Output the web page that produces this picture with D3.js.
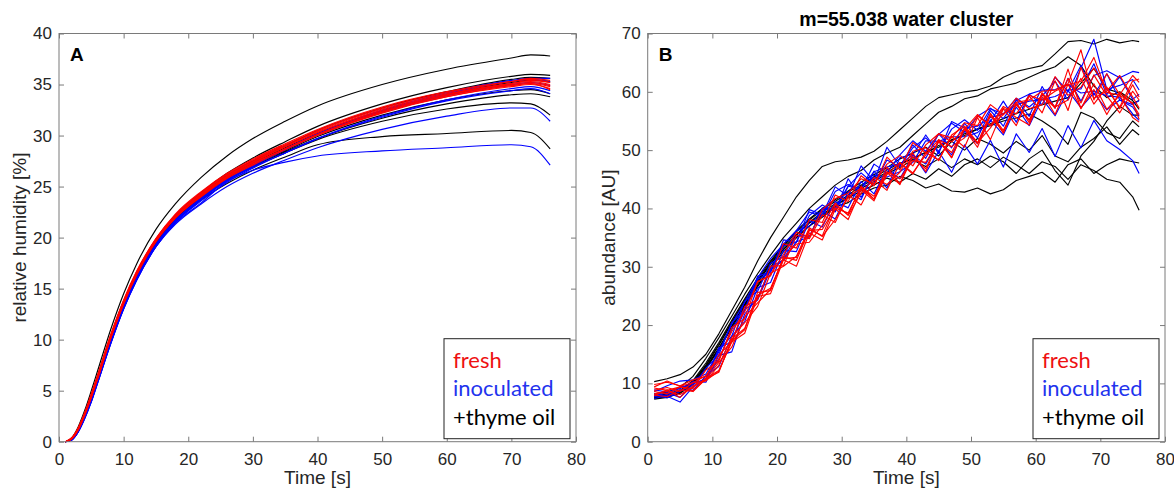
<!DOCTYPE html>
<html>
<head>
<meta charset="utf-8">
<script src="https://cdn.jsdelivr.net/npm/d3@7"></script>
<style>
  body { margin: 0; background: #fff; }
  text { font-family: "Liberation Sans", Arial, Helvetica, sans-serif; }
</style>
</head>
<body>
<script>

// ---- panel A : relative humidity ----
var timeA = [1, 2, 3, 4, 5, 6, 8, 10, 12, 15, 18, 22, 26, 30, 35, 40, 50, 60, 70, 73, 76];

var freshA = [
  [0,0.4,1.4,2.9,4.7,6.6,10.5,13.9,16.7,19.9,22.3,24.5,26.3,27.7,29.2,30.6,32.8,34.3,35.3,35.5,35.2],
  [0,0.3,1.3,2.8,4.5,6.4,10.3,13.7,16.5,19.8,22.1,24.2,26.0,27.4,28.9,30.3,32.5,34.0,35.0,35.2,34.9],
  [0,0.3,1.2,2.7,4.4,6.3,10.2,13.6,16.4,19.7,22.0,24.1,25.9,27.3,28.7,30.1,32.3,33.9,34.9,35.1,34.8],
  [0,0.4,1.3,2.8,4.6,6.5,10.4,13.8,16.6,19.8,22.1,24.3,26.1,27.5,29.0,30.4,32.6,34.1,35.1,35.3,35.0],
  [0,0.3,1.2,2.6,4.3,6.2,10.1,13.5,16.3,19.6,21.9,24.0,25.8,27.1,28.6,30.0,32.2,33.8,34.8,35.0,34.6],
  [0,0.3,1.3,2.7,4.4,6.3,10.2,13.6,16.4,19.7,22.0,24.2,26.0,27.4,28.9,30.3,32.4,34.0,35.1,35.4,35.2],
  [0,0.4,1.4,2.9,4.6,6.5,10.4,13.8,16.6,19.9,22.2,24.4,26.2,27.6,29.1,30.5,32.7,34.2,35.3,35.6,35.4],
  [0,0.3,1.2,2.7,4.4,6.2,10.1,13.5,16.3,19.6,21.9,24.1,25.9,27.2,28.7,30.1,32.3,33.8,34.9,35.1,34.5]
];

var inocA = [
  [0,0.2,1.0,2.4,4.0,5.9,9.7,13.1,15.9,19.2,21.5,23.6,25.4,26.8,28.3,29.7,31.9,33.5,34.6,34.8,34.4],
  [0,0.2,1.1,2.5,4.1,6.0,9.8,13.2,16.0,19.3,21.7,23.9,25.7,27.1,28.6,30.1,32.3,33.9,35.0,35.2,34.9],
  [0,0.2,1.0,2.3,3.9,5.8,9.6,13.0,15.8,19.1,21.5,23.7,25.6,27.0,28.6,30.1,32.4,34.1,35.3,35.5,35.3],
  [0,0.3,1.1,2.5,4.2,6.1,9.9,13.3,16.1,19.4,21.7,23.8,25.6,26.9,28.3,29.7,31.8,33.4,34.4,34.6,34.1],
  [0,0.2,1.0,2.4,4.0,5.9,9.7,13.1,15.9,19.2,21.6,23.8,25.7,27.1,28.7,30.2,32.5,34.2,35.4,35.6,35.6],
  [0,0.2,1.0,2.4,4.0,5.9,9.7,13.1,15.9,19.1,21.3,23.3,25.0,26.3,27.6,28.8,30.6,31.9,32.7,32.7,31.4],
  [0,0.2,1.0,2.3,3.9,5.8,9.6,13.0,15.8,19.1,21.4,23.4,25.5,26.6,27.4,28.0,28.5,28.8,29.1,28.9,27.1]
];

var thymeA = [
  [0,0.4,1.5,3.1,5.0,7.0,11.0,14.5,17.4,20.8,23.3,25.9,28.0,29.7,31.4,32.9,35.0,36.5,37.6,37.9,37.8],
  [0,0.3,1.2,2.6,4.3,6.2,10.0,13.4,16.2,19.4,21.7,23.7,25.3,26.6,27.9,29.1,29.9,30.2,30.5,30.3,28.7],
  [0,0.3,1.2,2.6,4.3,6.2,10.0,13.4,16.2,19.5,21.8,23.9,25.6,26.9,28.3,29.6,31.4,32.6,33.2,33.1,32.0],
  [0,0.3,1.3,2.8,4.5,6.4,10.3,13.7,16.5,19.8,22.2,24.4,26.3,27.8,29.4,30.9,33.1,34.7,35.8,36.0,35.9],
  [0,0.3,1.2,2.6,4.3,6.2,10.1,13.5,16.3,19.6,21.9,24.0,25.7,27.0,28.4,29.7,31.7,33.1,34.0,34.1,33.8],
  [0,0.3,1.3,2.7,4.4,6.3,10.2,13.6,16.4,19.7,22.0,24.2,26.1,27.5,29.0,30.5,32.7,34.3,35.5,35.7,35.6],
  [0,0.3,1.2,2.7,4.4,6.3,10.2,13.6,16.4,19.6,21.9,24.0,25.8,27.1,28.5,29.9,32.0,33.5,34.4,34.5,34.1],
  [0,0.3,1.2,2.6,4.3,6.2,10.1,13.5,16.3,19.6,21.9,24.1,25.9,27.3,28.8,30.2,32.4,34.0,35.2,35.4,35.3]
];

// ---- panel B : m=55.038 abundance ----
var timeB = [1,3,5,7,9,11,13,15,17,19,21,23,25,27,29,31,33,35,37,39,41,43,45,47,49,51,53,55,57,59,61,63,65,67,69,71,73,75,76];

var freshB = [
  [9.8,10.2,9.6,10.6,11.2,14.9,17.1,23.2,24.4,30.1,30.2,35.4,34.8,38.9,37.6,42.3,40.6,44.9,43.1,47.8,45.9,49.6,48.3,52.4,50.5,55.6,51.8,57.1,54.2,59.3,56.4,61.9,56.8,64.2,58.9,60.1,62.8,59.1,57.2],
  [8.6,8.2,9.4,8.7,10.8,13.6,16.2,21.4,23.8,26.1,31.6,33.9,34.2,37.1,40.9,38.8,42.6,45.3,44.1,46.2,49.8,50.4,48.2,52.6,54.1,51.3,53.8,57.2,55.6,54.3,59.8,57.4,58.6,62.3,57.9,60.8,57.1,61.2,59.1],
  [8,7.7,8.9,8.6,10.8,11.9,17.6,19.4,25.1,26.3,31.4,31.6,36.2,36.4,40.1,39.2,43.6,42.1,46.3,45.1,48.2,47.9,51.4,49.6,53.8,51.2,56.3,52.9,57.9,55.1,59.6,57.2,63.9,57.1,61.4,57.0,59.4,55.6,54.8],
  [9.2,8.8,9.4,9.1,12.3,13.8,19.6,21.1,27.5,28.4,34.0,33.2,38.1,37.6,42.3,41.2,45.6,43.9,48.8,46.6,51.3,49.5,52.8,52.1,54.7,54.2,57.8,56.1,58.2,58.6,60.1,60.3,61.4,67.2,58.6,63.1,59.5,62.8,61.6],
  [7.9,8.9,7.6,9.6,10.5,12.1,17.3,19.2,25.6,25.9,31.7,31.1,36.4,35.3,40.6,38.9,43.8,41.6,47.1,44.2,49.5,46.3,51.8,48.7,53.6,50.5,55.9,53.1,58.2,54.7,59.8,56.1,61.3,57.2,60.4,56.1,59.9,57.9,56.1],
  [8.8,9.3,8.6,10.1,10.4,13.1,17.9,20.4,23.2,28.9,30.1,31.8,36.7,35.2,38.1,41.9,43.5,41.6,45.8,47.9,46.1,49.2,51.8,50.6,52.1,55.9,54.2,56.1,58.9,57.1,57.8,62.6,59.4,60.8,64.1,60.5,57.4,61.9,62.2],
  [8.2,8.6,8.1,9.3,10.9,12.2,17.1,18.6,24.9,25.4,31.2,30.1,35.8,34.6,39.9,38.1,43.2,41.3,46.2,44.1,48.9,46.8,51.6,48.7,53.8,51.1,56.2,53.4,57.8,55.2,59.1,57.4,62.3,58.1,62.9,59.3,56.4,60.1,58.6],
  [9.4,10.4,9.5,10.1,11.3,14.2,18.9,22.3,27.4,28.6,32.1,35.9,35.1,39.8,41.7,42.6,45.1,44.2,47.6,49.1,47.3,50.9,52.8,51.4,53.6,56.1,54.2,57.5,56.2,59.4,58.6,60.1,61.2,61.8,65.9,59.9,59.4,58.1,55.3]
];

var inocB = [
  [8.3,7.8,6.8,9.4,10.9,14.1,19.3,22.6,27.8,29.1,33.6,34.2,38.8,40.6,39.4,43.8,46.1,44.2,48.3,47.1,50.4,52.1,49.8,53.6,55.2,53.4,57.1,56.2,58.9,57.4,59.3,61.8,58.6,64.1,69,60.4,61.1,62.1,60.3],
  [7.7,8.1,9.4,9.6,12.6,14.9,20.4,22.6,28.4,29.1,34.6,34.2,39.8,38.9,43.7,42.1,47.3,44.6,50.5,47.2,50.9,48.6,52.8,50.4,54.6,52.1,56.8,54.1,58.7,55.8,60.9,57.2,62.3,58.4,62.8,63.6,62.4,63.5,63.3],
  [8.9,8.5,9.1,10.3,10.2,14.8,15.4,21.9,24.6,29.9,31.2,35.4,35.2,39.6,38.2,42.9,41.5,46.4,43.5,48.7,49.3,46.1,49.8,46.2,50.9,47.6,51.7,47.1,52.8,49.6,53.7,48.9,54.2,50.4,55.1,51.6,50.1,48.2,46],
  [7.9,8.4,7.6,9.9,10.8,15.8,18.1,24.1,25.8,30.6,31.7,36.2,36.9,39.8,40.1,43.8,43.4,46.3,47.1,47.6,49.2,52.6,49.4,54.9,53.8,54.1,55.6,56.2,57.8,58.4,58.7,59.2,60.3,60.5,64.8,59.5,62.6,58.7,59.6],
  [8.6,9.6,10.4,10.6,11.6,15.4,20.2,23.9,28.1,31.4,33.9,36.2,39.4,38.6,42.9,44.1,43.2,47.6,46.1,49.2,51.6,49.8,52.7,54.6,53.1,55.8,57.2,55.4,58.5,59.6,57.8,62.5,60.1,64.5,59.4,63.1,58.6,57.8,58.5],
  [7.4,7.9,8.9,8.8,11.3,12.9,18.1,20.6,26.4,27.3,32.8,32.6,37.9,36.8,41.2,40.1,44.6,42.5,46.8,45.1,49.1,47.6,51.5,49.2,53.3,51.1,55.2,52.6,57.4,54.2,58.8,55.9,60.2,57.3,59.8,56.9,58.6,57.4,55.8],
  [8.1,7.5,8.6,10.1,10.6,16.1,17.1,22.6,24.3,29.5,31.1,34.3,35.1,40.1,39.5,45.1,41.9,45.7,45.4,46.3,47.9,51.6,51.5,52.3,52.3,53.0,54.9,58.4,54.8,59.6,60.3,60.4,61.2,59.8,60.1,59.3,59.1,56.2,55.1]
];

var thymeB = [
  [10.3,10.8,11.5,12.8,15,18.5,22.5,26.5,31,35,38.5,42,44.8,47.2,48,48.3,48.8,49.8,51.5,53.5,55.5,57.5,59,59.5,60,60.3,61,62.5,63.5,64,64.5,66.5,68.6,68.8,68.2,69,68.4,68.8,68.6],
  [8.2,8.5,9.3,11.2,14.3,17.8,21.5,25.3,28.8,32,35,37.5,40,42,44,45.5,46.5,48.3,49.5,50.5,52.5,54.5,56.5,57.5,58.8,59.3,60.5,61,61.5,62.5,63.5,64.3,66,64.5,61,59,60,58.5,57],
  [7.8,8.2,8.8,10.2,13,16.5,20.3,24,27.5,30.5,33.4,35.5,37.5,39,40.5,41.8,43,44,45.2,44.5,46,45,46.8,45.5,47.5,48.5,47,48.8,47.5,46,48,47.2,45,47.5,46.5,45,44.5,42,39.7],
  [7.5,7.8,8.5,10,12.8,16,19.8,23.5,26.8,30,33,35,37,38.5,40.3,41,42.5,43.5,44,45.5,44.8,43.5,44.2,43,42.8,43.5,42.5,43.2,44.8,45.5,46.2,44.5,47.5,48.5,46,47.5,48.5,48,47.8],
  [7.8,8,8.7,10.5,13.5,17,20.8,24.5,28,31,33.8,36.2,38.2,40,41.5,43,44.5,45.8,47,48.5,49.5,50.5,49,51.5,50,52,51,49.5,51.5,50,52.5,49,48,50.5,52,54,51,53.5,52.6],
  [7.6,7.9,8.6,10.3,13.2,16.7,20.5,24.2,27.6,30.8,33.6,36,38,39.8,41.2,42.8,44,45.4,46.6,47.8,48.4,49.7,50.5,51.8,52.5,53.6,54.2,55,55.5,56.2,55,53.5,51,56.5,55.5,53,52,55,54],
  [7.4,7.8,8.4,10,12.6,16,19.8,23.6,27.2,30.5,33,35.4,37.6,39.4,40.8,42.3,43.8,45,46.2,47.5,48.7,49.5,50.8,51.6,52.8,53.6,54.5,55.4,56.3,57,57.8,58.4,59,61.5,64,60.5,59.8,58,58.5],
  [7.3,7.6,8.3,9.8,12.5,15.8,19.5,23.2,26.6,29.8,32.6,35,37,38.8,40.4,42,43.4,44.6,46,47,48.3,47.2,48.5,47,48.5,47.5,49,48,46,48.5,50,46.5,44,49,51.5,55,57.5,56,56]
];

var xTicks = [0, 10, 20, 30, 40, 50, 60, 70, 80];
var yTicksA = [0, 5, 10, 15, 20, 25, 30, 35, 40];
var yTicksB = [0, 10, 20, 30, 40, 50, 60, 70];
var legendNames = ["fresh", "inoculated", "+thyme oil"];
var legendColors = ["#ee1111", "#2233ee", "#000000"];

var W = 1174, H = 488;
var svg = d3.select("body").append("svg")
    .attr("width", W)
    .attr("height", H);

function drawPanel(o) {
  var g = svg.append("g")
      .attr("transform", "translate(" + o.left + "," + o.top + ")");

  var x = d3.scaleLinear().domain([0, 80]).range([0, o.w]);
  var y = d3.scaleLinear().domain([0, o.ymax]).range([o.h, 0]);

  var line = d3.line()
      .x(function(d) { return x(d[0]); })
      .y(function(d) { return y(d[1]); })
      .curve(o.curve);

  // black first, then blue, red on top
  [[o.thyme, "#000000"], [o.inoc, "#0000ff"], [o.fresh, "#ff0000"]].forEach(function(grp) {
    g.append("g").selectAll("path")
      .data(grp[0])
      .enter()
      .append("path")
      .attr("d", function(vals) {
        return line(vals.map(function(v, i) { return [o.time[i], v]; }));
      })
      .attr("fill", "none")
      .attr("stroke", grp[1])
      .attr("stroke-width", 1.15)
      .attr("stroke-linejoin", "round");
  });

  // axes, matlab style: ticks inside on all four sides
  var axisCol = "#7a7a7a";
  function style(sel, showText) {
    sel.select(".domain").remove();
    sel.selectAll(".tick line").attr("stroke", axisCol);
    sel.selectAll("text")
      .attr("fill", "#262626")
      .style("font-size", "17px")
      .style("font-family", "'Liberation Sans', Arial, sans-serif");
    if (!showText) sel.selectAll("text").remove();
  }
  g.append("g").attr("transform", "translate(0," + o.h + ")")
    .call(d3.axisBottom(x).tickValues(xTicks).tickSizeInner(-5).tickSizeOuter(0).tickPadding(11))
    .call(style, true);
  g.append("g")
    .call(d3.axisTop(x).tickValues(xTicks).tickSizeInner(-5).tickSizeOuter(0))
    .call(style, false);
  g.append("g")
    .call(d3.axisLeft(y).tickValues(o.yTicks).tickSizeInner(-5).tickSizeOuter(0).tickPadding(7))
    .call(style, true);
  g.append("g").attr("transform", "translate(" + o.w + ",0)")
    .call(d3.axisRight(y).tickValues(o.yTicks).tickSizeInner(-5).tickSizeOuter(0))
    .call(style, false);

  g.append("rect")
    .attr("width", o.w).attr("height", o.h)
    .attr("fill", "none")
    .attr("stroke", axisCol)
    .attr("stroke-width", 1);

  // panel letter
  g.append("text")
    .attr("x", 11).attr("y", 27)
    .attr("font-weight", "bold")
    .attr("font-size", 19)
    .attr("fill", "#000")
    .text(o.letter);

  // axis labels
  g.append("text")
    .attr("x", o.w / 2).attr("y", o.h + 42)
    .attr("text-anchor", "middle")
    .attr("font-size", 19)
    .attr("fill", "#262626")
    .text("Time [s]");
  g.append("text")
    .attr("transform", "translate(" + o.ylabX + "," + (o.h / 2) + ") rotate(-90)")
    .attr("text-anchor", "middle")
    .attr("font-size", 19)
    .attr("fill", "#262626")
    .text(o.ylabel);

  if (o.title) {
    g.append("text")
      .attr("x", o.w / 2).attr("y", -8)
      .attr("text-anchor", "middle")
      .attr("font-weight", "bold")
      .attr("font-size", 19.5)
      .attr("fill", "#000")
      .text(o.title);
  }

  // legend box
  var lg = g.append("g").attr("transform", "translate(" + (o.w - 132) + "," + (o.h - 103) + ")");
  lg.append("rect")
    .attr("width", 126).attr("height", 100)
    .attr("fill", "#fff")
    .attr("stroke", "#222")
    .attr("stroke-width", 1);
  lg.selectAll("text.leg")
    .data(legendNames)
    .enter()
    .append("text")
    .attr("class", "leg")
    .attr("x", 9)
    .attr("y", function(d, i) { return 29 + i * 28.7; })
    .style("font-family", "Lato, 'Open Sans', sans-serif")
    .style("font-size", "22px")
    .attr("fill", function(d, i) { return legendColors[i]; })
    .text(function(d) { return d; });
}

drawPanel({
  left: 59, top: 33.5, w: 517, h: 408.2, ymax: 40,
  yTicks: yTicksA, time: timeA,
  fresh: freshA, inoc: inocA, thyme: thymeA,
  curve: d3.curveMonotoneX,
  letter: "A", ylabel: "relative humidity [%]", ylabX: -33
});

drawPanel({
  left: 647.7, top: 33.5, w: 517.3, h: 408.2, ymax: 70,
  yTicks: yTicksB, time: timeB,
  fresh: freshB, inoc: inocB, thyme: thymeB,
  curve: d3.curveLinear,
  letter: "B", ylabel: "abundance [AU]", ylabX: -33,
  title: "m=55.038 water cluster"
});

</script>
</body>
</html>
